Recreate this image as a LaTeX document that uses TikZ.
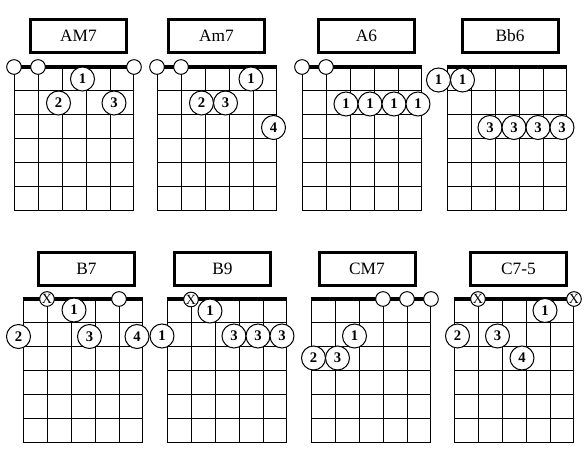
\documentclass[tikz,border=0pt]{standalone}
\usepackage{fontspec}
\setmainfont{Liberation Serif}

\tikzset{
  fretgrid/.style={line width=0.75pt},
  nut/.style={line width=3pt},
  namebox/.style={draw, line width=2.25pt, minimum width=72pt, minimum height=25pt,
    inner sep=0pt, font=\fontsize{13}{13}\selectfont},
  finger/.style={circle, draw, fill=white, line width=0.75pt, minimum size=18pt,
    inner sep=0pt, font=\bfseries\fontsize{11}{11}\selectfont},
  openstr/.style={circle, draw, fill=white, line width=0.75pt, minimum size=11pt, inner sep=0pt},
  mutestr/.style={openstr, font=\fontsize{10.5}{10.5}\selectfont},
}

\begin{document}
\begin{tikzpicture}[x=0.75pt, y=-0.75pt]
  \useasboundingbox (0,0) rectangle (587,452);

  % AM7
  \begin{scope}[shift={(14,67)}]
    \draw[fretgrid] (0,0) grid[step=18pt] (120,144);
    \draw[nut] (0,0) -- (120,0);
    \node[namebox] (amaj7) at (64.5,-31) {AM7};
    \node[openstr] (amaj7o1) at (0,0) {};
    \node[openstr] (amaj7o2) at (24,0) {};
    \node[openstr] (amaj7o6) at (120,0) {};
    \node[finger] (amaj7f1) at (68.5,12) {1};
    \node[finger] (amaj7f2) at (44.5,36) {2};
    \node[finger] (amaj7f3) at (100,36) {3};
  \end{scope}

  % Am7
  \begin{scope}[shift={(157,67)}]
    \draw[fretgrid] (0,0) grid[step=18pt] (120,144);
    \draw[nut] (0,0) -- (120,0);
    \node[namebox] (amin7) at (59.5,-31) {Am7};
    \node[openstr] (amin7o1) at (0,0) {};
    \node[openstr] (amin7o2) at (24,0) {};
    \node[finger] (amin7f1) at (94,12) {1};
    \node[finger] (amin7f2) at (44.5,36) {2};
    \node[finger] (amin7f3) at (68.5,36) {3};
    \node[finger] (amin7f4) at (116.5,60.5) {4};
  \end{scope}

  % A6
  \begin{scope}[shift={(302,67)}]
    \draw[fretgrid] (0,0) grid[step=18pt] (120,144);
    \draw[nut] (0,0) -- (120,0);
    \node[namebox] (asix) at (64.5,-31) {A6};
    \node[openstr] (asixo1) at (0,0) {};
    \node[openstr] (asixo2) at (24,0) {};
    \node[finger] (asixf3) at (44,37) {1};
    \node[finger] (asixf4) at (68,37) {1};
    \node[finger] (asixf5) at (92,37) {1};
    \node[finger] (asixf6) at (116,37) {1};
  \end{scope}

  % Bb6
  \begin{scope}[shift={(447,67)}]
    \draw[fretgrid] (0,0) grid[step=18pt] (120,144);
    \draw[nut] (0,0) -- (120,0);
    \node[namebox] (bbsix) at (63,-31) {Bb6};
    \node[finger] (bbsixf1) at (-8.5,13) {1};
    \node[finger] (bbsixf2) at (15.5,13) {1};
    \node[finger] (bbsixf3) at (43,60.5) {3};
    \node[finger] (bbsixf4) at (67,60.5) {3};
    \node[finger] (bbsixf5) at (91,60.5) {3};
    \node[finger] (bbsixf6) at (115,60.5) {3};
  \end{scope}

  % B7
  \begin{scope}[shift={(23,299)}]
    \draw[fretgrid] (0,0) grid[step=18pt] (120,144);
    \draw[nut] (0,0) -- (120,0);
    \node[namebox] (bseven) at (63.5,-30) {B7};
    \node[mutestr] (bsevenx2) at (24,0) {X};
    \node[openstr] (bseveno5) at (96,0) {};
    \node[finger] (bsevenf1) at (51,11) {1};
    \node[finger] (bsevenf2) at (-4.5,37.5) {2};
    \node[finger] (bsevenf3) at (66.5,37.5) {3};
    \node[finger] (bsevenf4) at (114,37.5) {4};
  \end{scope}

  % B9
  \begin{scope}[shift={(167,299)}]
    \draw[fretgrid] (0,0) grid[step=18pt] (120,144);
    \draw[nut] (0,0) -- (120,0);
    \node[namebox] (bnine) at (55.5,-30) {B9};
    \node[mutestr] (bninex2) at (24,0.5) {X};
    \node[finger] (bninef1) at (43,12) {1};
    \node[finger] (bninef2) at (-5,37) {1};
    \node[finger] (bninef3) at (67,37) {3};
    \node[finger] (bninef4) at (91,37) {3};
    \node[finger] (bninef5) at (115,37) {3};
  \end{scope}

  % CM7
  \begin{scope}[shift={(311,299)}]
    \draw[fretgrid] (0,0) grid[step=18pt] (120,144);
    \draw[nut] (0,0) -- (120,0);
    \node[namebox] (cmaj7) at (56,-30) {CM7};
    \node[openstr] (cmaj7o4) at (72,0) {};
    \node[openstr] (cmaj7o5) at (96,0) {};
    \node[openstr] (cmaj7o6) at (120,0) {};
    \node[finger] (cmaj7f1) at (43.5,37) {1};
    \node[finger] (cmaj7f2) at (2.5,59) {2};
    \node[finger] (cmaj7f3) at (26.5,59) {3};
  \end{scope}

  % C7-5
  \begin{scope}[shift={(454,299)}]
    \draw[fretgrid] (0,0) grid[step=18pt] (120,144);
    \draw[nut] (0,0) -- (120,0);
    \node[namebox] (cflat5) at (64.5,-30) {C7-5};
    \node[mutestr] (cflat5x2) at (24,0) {X};
    \node[mutestr] (cflat5x6) at (120,0) {X};
    \node[finger] (cflat5f1) at (91,11.5) {1};
    \node[finger] (cflat5f2) at (3.5,37) {2};
    \node[finger] (cflat5f3) at (43.5,37) {3};
    \node[finger] (cflat5f4) at (68,59) {4};
  \end{scope}
\end{tikzpicture}
\end{document}
